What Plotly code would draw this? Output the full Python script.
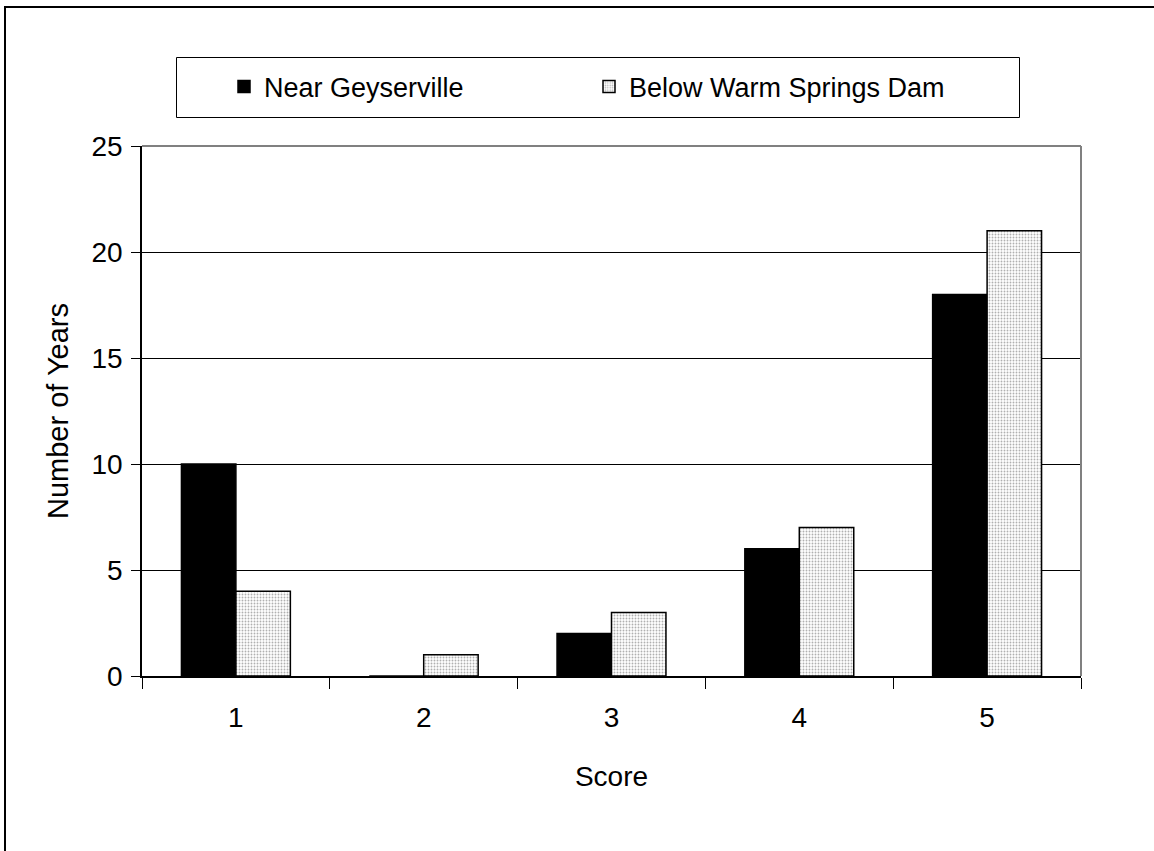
import plotly.graph_objects as go

categories = ["1", "2", "3", "4", "5"]
near_geyserville = [10, 0, 2, 6, 18]
below_dam = [4, 1, 3, 7, 21]
y_ticks = [0, 5, 10, 15, 20, 25]

FONT = "Arial, Liberation Sans, sans-serif"

W, H = 1154, 851
L, R, T, B = 142, 1081, 146, 676
pw, ph = R - L, B - T

def px(x):
    return (x - L) / pw

def py(y):
    return (B - y) / ph

fig = go.Figure()
fig.add_trace(go.Bar(
    x=categories, y=near_geyserville, name="Near Geyserville",
    marker=dict(color="black", line=dict(color="black", width=1.5)),
))
fig.add_trace(go.Bar(
    x=categories, y=below_dam, name="Below Warm Springs Dam",
    marker=dict(color="#f2f2f2", line=dict(color="black", width=1.5),
                pattern=dict(shape=".", size=3, solidity=0.3,
                             fgcolor="#b0b0b0", bgcolor="#ffffff",
                             fillmode="replace")),
))

shapes = [
    # outer chart border
    dict(type="rect", xref="paper", yref="paper",
         x0=px(5), x1=px(1170), y0=py(870), y1=py(7),
         line=dict(color="black", width=2), layer="above"),
    # legend box
    dict(type="rect", xref="paper", yref="paper",
         x0=px(176.5), x1=px(1019.5), y0=py(117.5), y1=py(57.5),
         line=dict(color="black", width=1), layer="above"),
    # plot area border (top and right, gray)
    dict(type="line", xref="paper", yref="paper", x0=0, x1=1, y0=1, y1=1,
         line=dict(color="#808080", width=2), layer="above"),
    dict(type="line", xref="paper", yref="paper", x0=1, x1=1, y0=0, y1=1,
         line=dict(color="#808080", width=2), layer="above"),
]

fig.update_layout(
    width=W, height=H,
    margin=dict(l=L, r=W - R, t=T, b=H - B, pad=0),
    paper_bgcolor="white", plot_bgcolor="white",
    font=dict(family=FONT, size=28, color="black"),
    barmode="group", bargap=0.42, bargroupgap=0,
    shapes=shapes,
    showlegend=True,
    legend=dict(orientation="h", x=px(224), xanchor="left",
                y=py(87), yanchor="middle",
                font=dict(family=FONT, size=27, color="black"),
                bgcolor="rgba(0,0,0,0)", borderwidth=0,
                entrywidth=320, entrywidthmode="pixels",
                itemclick=False),
    xaxis=dict(
        type="category", showline=True, linecolor="black", linewidth=1.5,
        ticks="outside", ticklen=11, tickcolor="black", tickwidth=1,
        tickson="boundaries", showgrid=False, layer="above traces",
        tickfont=dict(size=28), ticklabelstandoff=16,
        title=dict(text="Score", font=dict(size=28), standoff=34),
    ),
    yaxis=dict(
        range=[0, 25], tickvals=y_ticks, showline=True, linecolor="black",
        linewidth=1.5, ticks="outside", ticklen=9, tickcolor="black",
        showgrid=True, gridcolor="black", gridwidth=1, zeroline=False,
        tickfont=dict(size=28), ticklabelstandoff=3,
        title=dict(text="Number of Years", font=dict(size=29), standoff=14),
    ),
)

fig.write_html("out.html")
